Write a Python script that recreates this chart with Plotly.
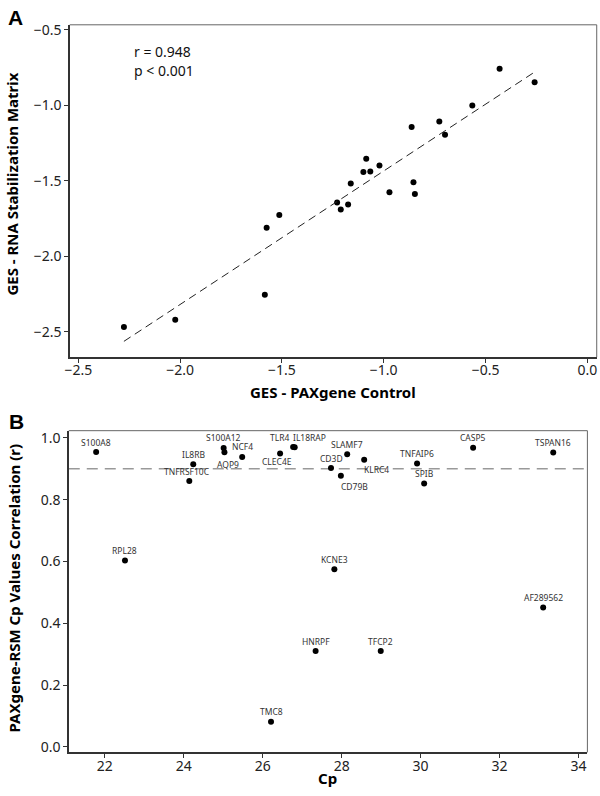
import plotly.graph_objects as go
import numpy as np

# ---------------- Panel A data ----------------
ges_paxgene = [-2.276, -2.024, -1.584, -1.575, -1.513, -1.229, -1.211, -1.175,
               -1.162, -0.972, -0.847, -0.854, -0.431, -0.259, -0.565, -0.727,
               -0.699, -0.863, -1.086, -1.100, -1.066, -1.021]
ges_rsm = [-2.469, -2.421, -2.255, -1.811, -1.728, -1.645, -1.691, -1.658,
           -1.518, -1.577, -1.588, -1.510, -0.759, -0.847, -1.002, -1.107,
           -1.195, -1.145, -1.355, -1.443, -1.439, -1.399]
stats_text = ["r = 0.948", "p < 0.001"]
a_xticks = [-2.5, -2.0, -1.5, -1.0, -0.5, 0.0]
a_yticks = [-2.5, -2.0, -1.5, -1.0, -0.5]

# ---------------- Panel B data ----------------
genes = ["S100A8", "IL8RB", "TNFRSF10C", "S100A12", "AQP9", "NCF4", "TLR4",
         "IL18RAP", "CLEC4E", "SLAMF7", "CD3D", "CD79B", "KLRC4", "TNFAIP6",
         "SPIB", "CASP5", "TSPAN16", "RPL28", "TMC8", "KCNE3", "HNRPF",
         "TFCP2", "AF289562"]
cp_values = [21.78, 24.24, 24.14, 25.01, 25.03, 25.48, 26.77,
             26.81, 26.44, 28.14, 27.73, 27.98, 28.57, 29.91,
             30.09, 31.33, 33.36, 22.51, 26.21, 27.815, 27.34,
             28.99, 33.105]
corr_r = [0.954, 0.914, 0.860, 0.967, 0.953, 0.938, 0.970,
          0.969, 0.949, 0.947, 0.902, 0.877, 0.929, 0.917,
          0.852, 0.968, 0.952, 0.603, 0.081, 0.575, 0.310,
          0.310, 0.451]
threshold_r = 0.9
b_xticks = [22, 24, 26, 28, 30, 32, 34]
b_yticks = [0.0, 0.2, 0.4, 0.6, 0.8, 1.0]

# label pixel offsets (style): (dx, dy) with dy positive = up
label_offsets = {
    "TNFRSF10C": (-2, 10), "AQP9": (3.5, -12.3), "TLR4": (-14, 9.4),
    "IL18RAP": (15, 9.7), "CLEC4E": (-3.5, -8.4), "CD79B": (13.8, -10.4),
    "KLRC4": (12.7, -9.3),
}

W, H = 600, 796
def px(x):
    return x / W
def py(y):
    return 1 - y / H

fig = go.Figure()

fig.add_trace(go.Scatter(x=ges_paxgene, y=ges_rsm, mode="markers",
                         marker=dict(color="black", size=6),
                         xaxis="x", yaxis="y", showlegend=False))
slope, icpt = np.polyfit(ges_paxgene, ges_rsm, 1)
fit_x = [min(ges_paxgene), max(ges_paxgene)]
fit_y = [slope * v + icpt for v in fit_x]
fig.add_trace(go.Scatter(x=fit_x, y=fit_y, mode="lines",
                         line=dict(color="#222", width=1, dash="8px,5px"),
                         xaxis="x", yaxis="y", showlegend=False))

fig.add_trace(go.Scatter(x=cp_values, y=corr_r, mode="markers",
                         marker=dict(color="black", size=6),
                         xaxis="x2", yaxis="y2", showlegend=False))

tickfont = dict(family="Noto Sans", size=14, color="#222")
axis_common = dict(showgrid=False, zeroline=False, showline=True,
                   linecolor="#333", linewidth=1.5, ticks="outside",
                   ticklen=4, tickwidth=1, tickcolor="#333",
                   tickfont=tickfont)

fig.update_layout(
    width=W, height=H,
    margin=dict(l=0, r=0, t=0, b=0),
    paper_bgcolor="white", plot_bgcolor="white",
    xaxis=dict(domain=[px(65.3), px(596.7)], anchor="y",
               range=[-2.542, 0.046], tickvals=a_xticks, tickformat=".1f",
               ticklabelstandoff=-4, **axis_common),
    yaxis=dict(domain=[py(355.7), py(20)], anchor="x",
               range=[-2.669, -0.467], tickvals=a_yticks, tickformat=".1f",
               **axis_common),
    xaxis2=dict(domain=[px(64.3), px(587.3)], anchor="y2",
                range=[21.086, 34.226], tickvals=b_xticks,
                ticklabelstandoff=-4, **axis_common),
    yaxis2=dict(domain=[py(755), py(430)], anchor="x2",
                range=[-0.018, 1.023], tickvals=b_yticks, tickformat=".1f",
                **axis_common),
)

shapes = []
for xr, yr in (("x", "y"), ("x2", "y2")):
    shapes.append(dict(type="line", xref=f"{xr} domain", yref=f"{yr} domain",
                       x0=0, x1=1, y0=1, y1=1, line=dict(color="#666", width=1)))
    shapes.append(dict(type="line", xref=f"{xr} domain", yref=f"{yr} domain",
                       x0=1, x1=1, y0=0, y1=1, line=dict(color="#666", width=1)))
shapes.append(dict(type="line", xref="x2 domain", yref="y2", x0=0, x1=1,
                   y0=threshold_r, y1=threshold_r, layer="below",
                   line=dict(color="#999", width=1.5, dash="11px,7px")))
fig.update_layout(shapes=shapes)

ann = []
title_font = dict(family="Noto Sans", size=15, color="black")
letter_font = dict(family="Liberation Sans", size=21, color="black")
ann.append(dict(text="<b>A</b>", x=px(1), y=py(12.5), xref="paper", yref="paper",
                xanchor="left", yanchor="middle", showarrow=False, font=letter_font))
ann.append(dict(text="<b>B</b>", x=px(2), y=py(421), xref="paper", yref="paper",
                xanchor="left", yanchor="middle", showarrow=False, font=letter_font))
for i, t in enumerate(stats_text):
    ann.append(dict(text=t, x=px(128), y=py(47 + 19 * i), xref="paper", yref="paper",
                    xanchor="left", yanchor="middle", showarrow=False,
                    font=dict(family="Noto Sans", size=14, color="#111")))
ann.append(dict(text="<b>GES - PAXgene Control</b>", x=px(331), y=py(391),
                xref="paper", yref="paper", xanchor="center", yanchor="middle",
                showarrow=False, font=title_font))
ann.append(dict(text="<b>GES - RNA Stabilization Matrix</b>", x=px(7.5), y=py(181),
                xref="paper", yref="paper", xanchor="center", yanchor="middle",
                textangle=-90, showarrow=False, font=title_font))
ann.append(dict(text="<b>Cp</b>", x=px(325), y=py(781),
                xref="paper", yref="paper", xanchor="center", yanchor="middle",
                showarrow=False, font=title_font))
ann.append(dict(text="<b>PAXgene-RSM Cp Values Correlation (r)</b>", x=px(9), y=py(588.5),
                xref="paper", yref="paper", xanchor="center", yanchor="middle",
                textangle=-90, showarrow=False, font=title_font))

for g, xv, yv in zip(genes, cp_values, corr_r):
    dx, dy = label_offsets.get(g, (0, 10))
    ann.append(dict(text=g, x=xv, y=yv, xref="x2", yref="y2", xshift=dx, yshift=dy,
                    xanchor="center", yanchor="middle", showarrow=False,
                    font=dict(family="Noto Sans", size=8.5, color="#333")))
fig.update_layout(annotations=ann)

fig.write_html(
    "out.html",
    config={"displayModeBar": False, "staticPlot": True},
    post_script="document.body.style.margin='0';document.body.style.padding='0';"
                "document.body.style.overflow='hidden';",
)
